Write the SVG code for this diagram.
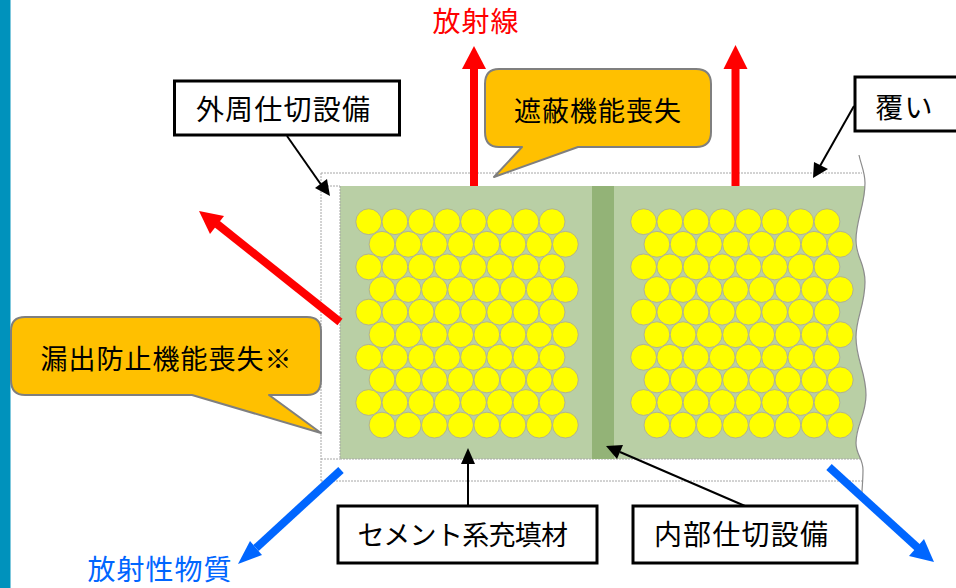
<svg xmlns="http://www.w3.org/2000/svg" xmlns:xlink="http://www.w3.org/1999/xlink" width="956" height="588" viewBox="0 0 956 588">
<style>
text{font-family:"Liberation Sans","Noto Sans CJK JP",sans-serif;font-size:27px;letter-spacing:1px;fill:#000;text-anchor:middle}
.lg{font-size:28px;letter-spacing:1.2px}
.box{fill:#fff;stroke:#000;stroke-width:3}
.call{fill:#ffc000;stroke:#7f7f7f;stroke-width:2;stroke-linejoin:round}
.dot{fill:none;stroke:#a6a6a6;stroke-width:1;stroke-dasharray:2 1}
.pel{fill:#ff0;stroke:#a5a5a5;stroke-width:.8}
.blk{stroke:#000;stroke-width:2;fill:none}
.red{stroke:#f00;stroke-width:8;fill:none}
.blu{stroke:#06f;stroke-width:8;fill:none}
</style>
<defs>
<circle id="c" class="pel" r="12.9"/>
<g id="r8"><use xlink:href="#c"/><use xlink:href="#c" x="26.2"/><use xlink:href="#c" x="52.4"/><use xlink:href="#c" x="78.6"/><use xlink:href="#c" x="104.8"/><use xlink:href="#c" x="131"/><use xlink:href="#c" x="157.2"/><use xlink:href="#c" x="183.4"/></g>
<g id="block">
<use xlink:href="#r8" y="0"/><use xlink:href="#r8" x="13.3" y="22.6"/>
<use xlink:href="#r8" y="45.2"/><use xlink:href="#r8" x="13.3" y="67.8"/>
<use xlink:href="#r8" y="90.4"/><use xlink:href="#r8" x="13.3" y="113"/>
<use xlink:href="#r8" y="135.6"/><use xlink:href="#r8" x="13.3" y="158.2"/>
<use xlink:href="#r8" y="180.8"/><use xlink:href="#r8" x="13.3" y="203.4"/>
</g>
</defs>
<rect id="stripe" x="0" y="0" width="10.500" height="588" fill="#0092bc"/>
<g id="cover">
<path d="M321 173H862M321 481H862M321 173V481M321 186H340M321 459H340" class="dot"/>
<path d="M340 186H865C865 205 856 220 856 240C856 258 865 262 865 282C865 305 856 318 856 337C856 360 866 372 866 395C866 415 856 425 856 443C856 450 859 455 861 459H340z" fill="#b9cfa5"/>
<path d="M340 186V459H860" class="dot"/>
<rect x="592" y="186" width="22" height="273" fill="#93b377"/>
<path d="M859 155C861 165 865 172 865 183C865 205 856 220 856 240C856 258 865 262 865 282C865 305 856 318 856 337C856 360 866 372 866 395C866 415 856 425 856 443C856 455 863 458 863 470C863 480 862 490 861.500 498" fill="none" stroke="#8c8c8c" stroke-width="1.2"/>
</g>
<g id="pellets-left"><use xlink:href="#block" x="368.7" y="221.7"/></g>
<g id="pellets-right"><use xlink:href="#block" x="643.6" y="221.7"/></g>
<g id="connectors">
<path class="red" d="M474 186V69"/><path d="M462 69L474 46L486 69z" fill="#f00"/>
<path class="red" d="M735.500 186V68"/><path d="M723.500 69L735.500 45L747.500 69z" fill="#f00"/>
<path class="red" d="M340 322L217 224"/><path d="M199 211L224 216L210 234z" fill="#f00"/>
<path class="blu" d="M341 470L256 548"/><path d="M238 564L250 541L262 555z" fill="#06f"/>
<path class="blu" d="M829 467L918 548"/><path d="M934 562L909 556L924 539z" fill="#06f"/>
<path class="blk" d="M287 136L322 186"/><path d="M330 196L315 188L327 179z" fill="#000"/>
<path class="blk" d="M854 106L820 166"/><path d="M813 178L814 162L828 169z" fill="#000"/>
<path class="blk" d="M468 506V461"/><path d="M468 448L475 464L461 464z" fill="#000"/>
<path class="blk" d="M745 506L620 452"/><path d="M606 446L623 445L617 459z" fill="#000"/>
</g>
<g id="n-gaishu"><rect class="box" x="174.500" y="81" width="225" height="54"/><text class="lg" x="283.500" y="120">外周仕切設備</text></g>
<g id="n-oi"><rect class="box" x="855" y="77" width="110" height="54"/><text class="lg" x="904.500" y="118">覆い</text></g>
<g id="n-cement"><rect class="box" x="338" y="506" width="259" height="57"/><text x="462.500" y="545" style="letter-spacing:-.7px">セメント系充填材</text></g>
<g id="n-naibu"><rect class="box" x="633" y="506" width="224" height="57"/><text class="lg" x="741.500" y="545">内部仕切設備</text></g>
<g id="n-shahei"><path class="call" d="M499 69H696Q711 69 711 84V132Q711 147 696 147H578L494 177L522 147H499Q485 147 485 132V84Q485 69 499 69z"/><text x="598" y="121">遮蔽機能喪失</text></g>
<g id="n-rouei"><path class="call" d="M25 317H307Q321 317 321 331V380Q321 395 307 395H269L321 433L192 395H25Q11 395 11 380V331Q11 317 25 317z"/><text x="166.500" y="369">漏出防止機能喪失※</text></g>
<text id="l-rad" x="476" y="32" style="fill:#f00;font-size:28px">放射線</text>
<text id="l-mat" x="160" y="580" style="fill:#06f;font-size:28px">放射性物質</text>
</svg>
